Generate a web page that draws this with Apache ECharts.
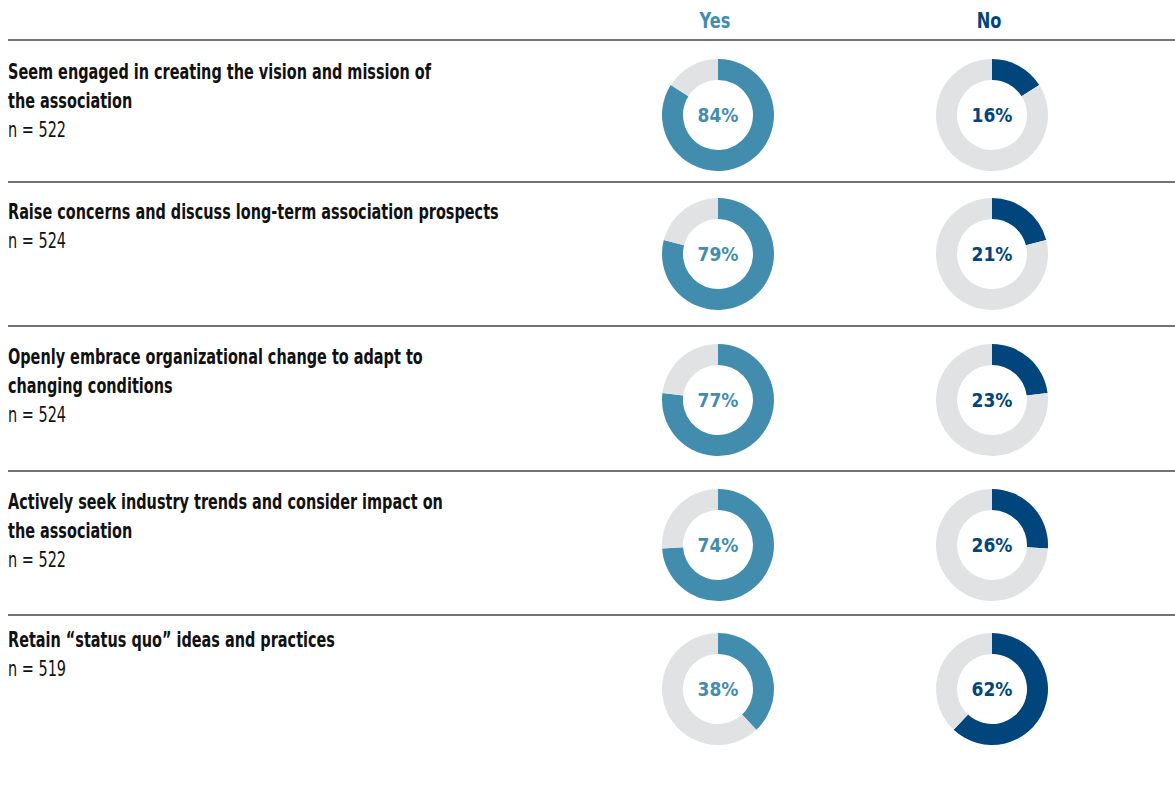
<!DOCTYPE html>
<html>
<head>
<meta charset="utf-8">
<script src="https://cdn.jsdelivr.net/npm/echarts@6/dist/echarts.min.js"></script>
<style>
html,body{margin:0;padding:0;background:#fff;}
#c{width:1175px;height:787px;}
</style>
</head>
<body>
<div id="c"></div>
<script>
// ---- data ----
const categories = [
  "Seem engaged in creating the vision and mission of\nthe association",
  "Raise concerns and discuss long-term association prospects",
  "Openly embrace organizational change to adapt to\nchanging conditions",
  "Actively seek industry trends and consider impact on\nthe association",
  "Retain \u201cstatus quo\u201d ideas and practices"
];
const nValues = [522, 524, 524, 522, 519];
const yesValues = [84, 79, 77, 74, 38];
const noValues = [16, 21, 23, 26, 62];
const columnHeaders = ["Yes", "No"];

// ---- style / layout ----
const FONT = '"DejaVu Sans Condensed", "Liberation Sans Narrow", sans-serif';
const YES_COLOR = '#428dae';
const NO_COLOR = '#00457c';
const GRAY = '#e1e2e4';
const rowLineY = [40, 182, 326, 471, 615];
const titleY = [72, 212, 357, 502, 640];
const centerY = [115, 254, 400, 545, 689];
const colX = [718, 992];
const lineGap = 29;
const SX = 0.765;

const chart = echarts.init(document.getElementById('c'), null, {renderer: 'svg'});

const graphics = [];
columnHeaders.forEach((h, i) => {
  graphics.push({
    type: 'text', x: colX[i] - 3, y: 20, scaleX: 0.82,
    style: {text: h, fill: i === 0 ? YES_COLOR : NO_COLOR,
      font: 'bold 22px ' + FONT, textAlign: 'center', textVerticalAlign: 'middle'}
  });
});
rowLineY.forEach(y => {
  graphics.push({
    type: 'line', shape: {x1: 8, y1: y, x2: 1175, y2: y},
    style: {stroke: '#444', lineWidth: 1.6}
  });
});
categories.forEach((cat, r) => {
  const lines = cat.split('\n');
  lines.forEach((ln, k) => {
    graphics.push({
      type: 'text', x: 8, y: titleY[r] + k * lineGap, scaleX: SX,
      style: {text: ln, fill: '#111', font: 'bold 21px ' + FONT,
        textAlign: 'left', textVerticalAlign: 'middle'}
    });
  });
  graphics.push({
    type: 'text', x: 8, y: titleY[r] + lines.length * lineGap, scaleX: SX,
    style: {text: 'n = ' + nValues[r], fill: '#111', font: '21px ' + FONT,
      textAlign: 'left', textVerticalAlign: 'middle'}
  });
});

const series = [];
[yesValues, noValues].forEach((vals, c) => {
  const color = c === 0 ? YES_COLOR : NO_COLOR;
  vals.forEach((v, r) => {
    series.push({
      type: 'pie',
      center: [colX[c], centerY[r]],
      radius: [35, 56],
      startAngle: 90,
      clockwise: true,
      silent: true,
      avoidLabelOverlap: false,
      labelLine: {show: false},
      data: [
        {value: v, name: columnHeaders[c], itemStyle: {color: color},
          label: {show: true, position: 'center', formatter: v + '%',
            color: color, fontFamily: FONT, fontWeight: 'bold', fontSize: 19}},
        {value: 100 - v, name: 'rest', itemStyle: {color: GRAY}, label: {show: false}}
      ],
      emphasis: {disabled: true}
    });
  });
});

chart.setOption({
  animation: false,
  backgroundColor: '#fff',
  graphic: graphics,
  series: series
});
</script>
</body>
</html>
